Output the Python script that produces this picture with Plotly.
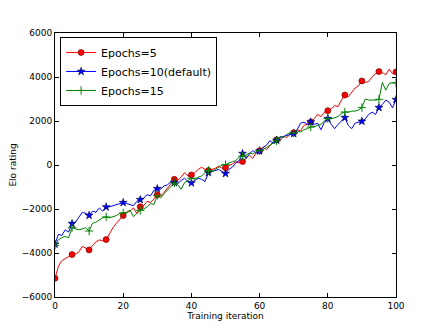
import plotly.graph_objects as go

iterations = list(range(0, 101))

elo_epochs5 = [
    -5150, -4600, -4350, -4250, -4150, -4070, -4050, -3950, -3700, -3800,
    -3860, -3650, -3500, -3400, -3450, -3390, -3100, -2850, -2650, -2450,
    -2300, -2150, -2100, -1950, -2200, -1900, -1850, -1650, -1700, -1550,
    -1350, -1400, -1250, -1050, -850, -650, -700, -550, -350, -500,
    -450, -350, -200, -100, -200, -250, -200, -150, -50, -150,
    -120, -50, 50, 150, 100, 155, 300, 450, 300, 550,
    650, 800, 700, 900, 1050, 1150, 1100, 1300, 1250, 1400,
    1470, 1600, 1550, 1800, 1850, 1950, 2100, 2300, 2200, 2400,
    2470, 2550, 2700, 2650, 2950, 3180, 3100, 3300, 3500, 3600,
    3820, 3750, 3800, 4000, 4150, 4245, 4200, 4100, 4350, 4150,
    4230,
]

elo_epochs10 = [
    -3600, -3150, -3200, -2950, -3050, -2665, -2600, -2400, -2150, -2200,
    -2290, -2100, -2150, -1950, -2100, -1910, -1900, -1850, -1800, -1750,
    -1710, -1750, -1800, -1850, -1650, -1575, -1500, -1350, -1400, -1150,
    -1075, -1100, -950, -900, -750, -800, -850, -700, -600, -750,
    -815, -700, -600, -650, -750, -350, -300, -250, -200, -300,
    -390, -200, -100, 100, 200, 520, 300, 500, 650, 550,
    636, 800, 900, 1100, 1000, 1123, 1250, 1300, 1350, 1400,
    1427, 1600, 1900, 1950, 1850, 1955, 1850, 1900, 1600, 1950,
    2109, 1850, 1650, 1850, 2000, 2155, 1800, 1650, 1900, 1950,
    1986, 2100, 2300, 2400, 2300, 2609, 2750, 2950, 2850, 2600,
    2973,
]

elo_epochs15 = [
    -3650, -3400, -3300, -3250, -3300, -2850, -2900, -2950, -2900, -2850,
    -3000, -2650, -2600, -2500, -2400, -2360, -2400, -2350, -2300, -2200,
    -2180, -2150, -2050, -2350, -2200, -2060, -2000, -1900, -1750, -1800,
    -1377, -1500, -1300, -1150, -1000, -818, -900, -1100, -800, -700,
    -600, -650, -550, -500, -350, -250, -300, -200, -100, 0,
    18, 100, 150, 200, 350, 400, 450, 550, 500, 600,
    650, 700, 800, 900, 1000, 1100, 1300, 1250, 1400, 1450,
    1450, 1550, 1500, 1600, 1650, 1727, 1750, 1800, 1850, 2000,
    2109, 2100, 2150, 2200, 2350, 2409, 2400, 2450, 2450, 2500,
    2609, 3000, 2950, 2950, 2950, 2986, 3750, 3400, 3700, 3750,
    3727,
]

series = [
    ("Epochs=5", elo_epochs5, "#ff0000", "circle", 6, "#550000"),
    ("Epochs=10(default)", elo_epochs10, "#0000ff", "star", 6, "#000044"),
    ("Epochs=15", elo_epochs15, "#008000", "cross-thin", 6, "#008000"),
]

fig = go.Figure()

for name, vals, color, sym, size, edge in series:
    edge_w = 1 if sym == "cross-thin" else 0.6
    # the line itself
    fig.add_trace(go.Scatter(x=iterations, y=vals, mode="lines",
                             line=dict(color=color, width=1),
                             showlegend=False, hoverinfo="skip"))
    # markers every 5 iterations
    fig.add_trace(go.Scatter(x=iterations[::5], y=vals[::5], mode="markers",
                             marker=dict(symbol=sym, size=size, color=color,
                                         line=dict(color=edge, width=edge_w)),
                             showlegend=False))
    # legend entry
    fig.add_trace(go.Scatter(x=[None], y=[None], mode="lines+markers", name=name,
                             line=dict(color=color, width=1),
                             marker=dict(symbol=sym, size=size, color=color,
                                         line=dict(color=edge, width=edge_w))))

axis_common = dict(showline=True, linecolor="black", linewidth=1, mirror="ticks",
                   ticks="inside", ticklen=4, tickcolor="black", showgrid=False,
                   zeroline=False, automargin=False, tickfont=dict(size=9, color="black"))

# page body adds an 8px offset, so margins are shifted up/left
fig.update_layout(
    width=440, height=330,
    margin=dict(l=47, r=52, t=25, b=41),
    paper_bgcolor="white", plot_bgcolor="white",
    font=dict(family="DejaVu Sans", color="black"),
    xaxis=dict(range=[0, 100], tickvals=[0, 20, 40, 60, 80, 100],
               title=dict(text="Training iteration", font=dict(size=9), standoff=2),
               **axis_common),
    yaxis=dict(range=[-6000, 6000], tickvals=list(range(-6000, 6001, 2000)),
               title=dict(text="Elo rating", font=dict(size=9), standoff=6),
               **axis_common),
    legend=dict(x=0.015, y=0.985, xanchor="left", yanchor="top",
                bordercolor="black", borderwidth=1, bgcolor="white",
                font=dict(size=11), tracegroupgap=0, itemwidth=30),
)

fig.write_html("out.html")
